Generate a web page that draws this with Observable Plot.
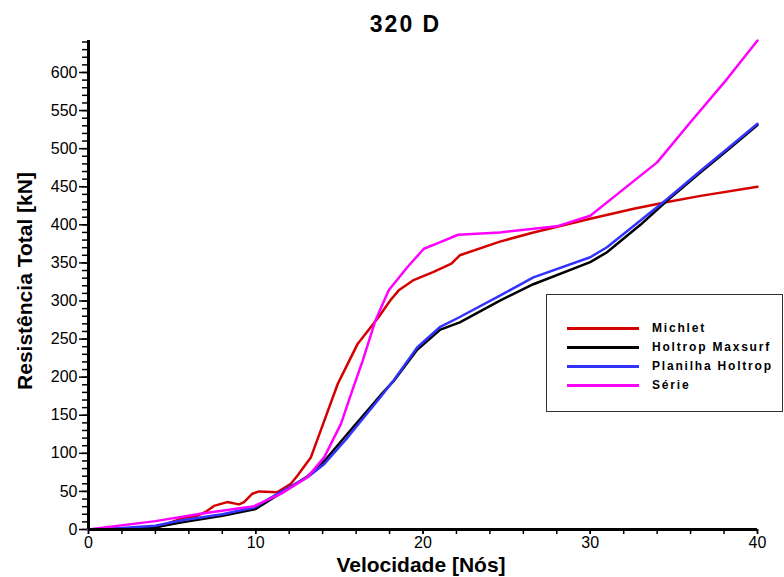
<!DOCTYPE html>
<html>
<head>
<meta charset="utf-8">
<script src="https://cdn.jsdelivr.net/npm/d3@7"></script>
<script src="https://cdn.jsdelivr.net/npm/@observablehq/plot@0.6"></script>
<style>
  html, body { margin: 0; padding: 0; background: #fff; }
  #wrap { position: relative; width: 784px; height: 577px; overflow: hidden; font-family: "Liberation Sans", Arial, sans-serif; }
  #title { position: absolute; left: 0; width: 811px; top: 13px; text-align: center; font-weight: bold; font-size: 23px; letter-spacing: 2px; line-height: 1; }
  #xlabel { position: absolute; left: 0; width: 842px; top: 554px; text-align: center; font-weight: bold; font-size: 21px; line-height: 1; }
  #ylabel { position: absolute; left: 24px; top: 281px; transform: translate(-50%, -50%) rotate(-90deg); white-space: nowrap; font-weight: bold; font-size: 21px; line-height: 1; }
  #legend { position: absolute; left: 546px; top: 294px; width: 235px; height: 116px; border: 1px solid #333; background: #fff; }
  .item { position: absolute; left: 0; height: 19px; }
  .sw { position: absolute; left: 20px; width: 72px; height: 3px; top: 8px; }
  .lt { position: absolute; left: 105px; top: 1px; font-weight: bold; font-size: 12px; letter-spacing: 1.8px; white-space: nowrap; line-height: 16px; }
</style>
</head>
<body>
<div id="wrap">
  <div id="chart"></div>
  <div id="title">320 D</div>
  <div id="ylabel">Resistência Total [kN]</div>
  <div id="xlabel">Velocidade [Nós]</div>
  <div id="legend"></div>
</div>
<script>
// Series names and colours
const seriesNames = ["Michlet", "Holtrop Maxsurf", "Planilha Holtrop", "Série"];
const seriesColors = ["#d40000", "#000000", "#3333ff", "#ff00ff"];

// Michlet
const michletV = [0, 2, 4, 5.5, 6.5, 7, 7.5, 8.3, 9.0, 9.3, 9.8, 10.2, 11.3, 12.1, 12.5, 13.3, 14.1, 14.9, 15.6, 16.1, 17.35, 18.05, 18.55, 19.4, 20.6, 21.7, 22.2, 24.6, 26.6, 30, 32.6, 34.6, 36.6, 40];
const michletR = [0, 0.5, 2, 14, 18, 23, 31, 36, 33, 36, 47, 50, 49, 60, 71, 95, 143, 191, 222, 244, 279, 301, 314, 327, 338, 349, 360, 378, 390, 408, 421, 430, 438, 450];

// Holtrop Maxsurf
const maxsurfV = [0, 2, 4, 5.5, 8, 10, 11.3, 13.1, 14.1, 15.5, 17.45, 18.25, 19.65, 21.0, 22.2, 24.6, 26.6, 30, 31, 33, 34.6, 36.6, 38.2, 40];
const maxsurfR = [0, 1, 3, 9, 18, 27, 45, 70, 90, 126, 176, 195, 236, 262, 272, 300.6, 322, 351, 364, 400, 432, 469, 498, 531];

// Planilha Holtrop
const planilhaV = [0, 2, 4, 5.5, 8, 9.9, 11.3, 13.1, 14.1, 15.5, 17.45, 18.25, 19.65, 21.0, 22.2, 24.6, 26.6, 30, 31, 33, 34.6, 36.6, 38.2, 40];
const planilhaR = [0, 2, 5, 11.8, 20, 29, 46.8, 68.7, 86, 121, 173.7, 196, 239, 265.6, 279, 307, 331, 357.5, 370.6, 405.7, 434, 471, 499.8, 532.6];

// Série
const serieV = [0, 4, 6.7, 9.9, 11.5, 13.1, 14.1, 15.1, 15.7, 16.4, 17.15, 17.95, 19.05, 20.05, 21.0, 22.1, 24.6, 28, 30, 31.6, 34, 36, 38.2, 40];
const serieR = [0, 11, 20.6, 30.6, 46.8, 68.7, 95, 139, 178, 222, 274, 314, 344, 368.6, 377, 387, 390, 398, 412, 440, 482, 535, 592, 642];

// Ticks
const xMajorTicks = [0, 10, 20, 30, 40];
const xMinorTicks = d3.range(0, 41, 2);
const yMajorTicks = d3.range(0, 601, 50);
const yMinorTicks = d3.range(0, 641, 10);

const seriesV = [michletV, maxsurfV, planilhaV, serieV];
const seriesR = [michletR, maxsurfR, planilhaR, serieR];
const tables = seriesV.map((vs, i) => vs.map((v, j) => ({v, r: seriesR[i][j]})));

const chart = Plot.plot({
  width: 784,
  height: 577,
  marginLeft: 88,
  marginRight: 27,
  marginTop: 40,
  marginBottom: 48,
  style: {fontFamily: "'Liberation Sans', Arial, sans-serif", fontSize: "16px", color: "black", background: "white", overflow: "visible"},
  x: {domain: [0, 40], label: null},
  y: {domain: [0, 642], label: null},
  marks: [
    Plot.axisY(yMinorTicks, {tickSize: 6, strokeWidth: 1.5, tickFormat: () => "", label: null}),
    Plot.axisY(yMajorTicks, {tickSize: 9, tickPadding: 2, strokeWidth: 1.5, fontSize: 16, label: null}),
    Plot.axisX(xMinorTicks, {tickSize: 5, strokeWidth: 1.5, tickFormat: () => "", label: null}),
    Plot.axisX(xMajorTicks, {tickSize: 5, tickPadding: 2, strokeWidth: 1.5, fontSize: 16, label: null}),
    ...tables.map((t, i) => Plot.line(t, {x: "v", y: "r", stroke: seriesColors[i], strokeWidth: 2.5})),
    Plot.ruleX([0], {strokeWidth: 3}),
    Plot.ruleY([0], {strokeWidth: 3})
  ]
});
document.getElementById("chart").appendChild(chart);

// Legend
const legend = document.getElementById("legend");
seriesNames.forEach((name, i) => {
  const item = document.createElement("div");
  item.className = "item";
  item.style.top = (24 + i * 19) + "px";
  const sw = document.createElement("div");
  sw.className = "sw";
  sw.style.background = seriesColors[i];
  const lt = document.createElement("div");
  lt.className = "lt";
  lt.textContent = name;
  item.appendChild(sw);
  item.appendChild(lt);
  legend.appendChild(item);
});
</script>
</body>
</html>
